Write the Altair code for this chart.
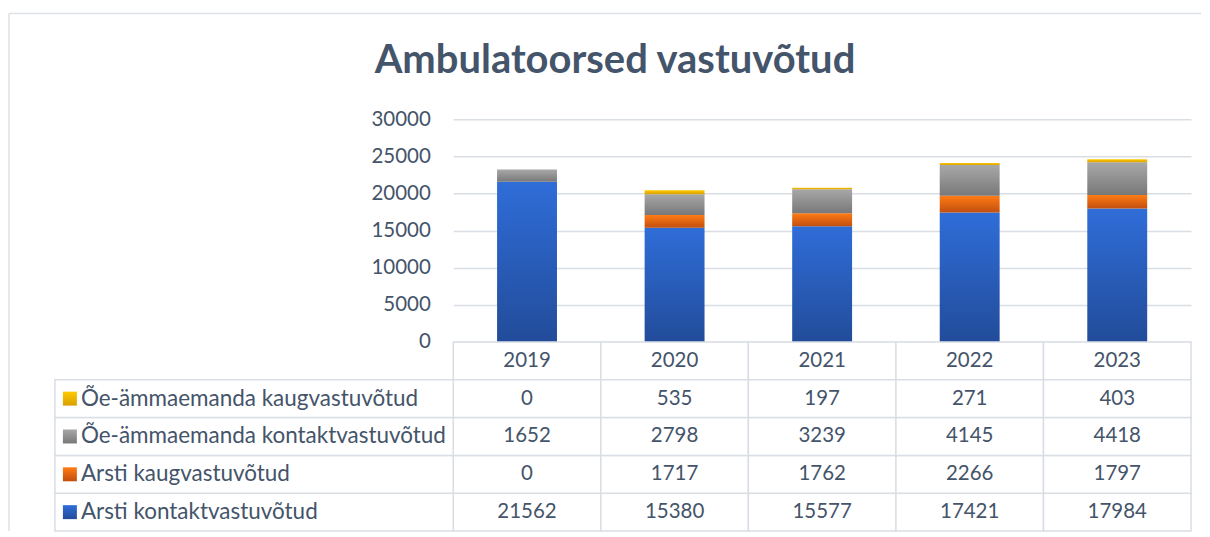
import altair as alt
import pandas as pd

# ---------------- data ----------------
years = ["2019", "2020", "2021", "2022", "2023"]
series = [
    "Arsti kontaktvastuvõtud",
    "Arsti kaugvastuvõtud",
    "Õe-ämmaemanda kontaktvastuvõtud",
    "Õe-ämmaemanda kaugvastuvõtud",
]
arsti_kontakt = [21562, 15380, 15577, 17421, 17984]
arsti_kaug = [0, 1717, 1762, 2266, 1797]
oe_kontakt = [1652, 2798, 3239, 4145, 4418]
oe_kaug = [0, 535, 197, 271, 403]
y_ticks = [0, 5000, 10000, 15000, 20000, 25000, 30000]
title_text = "Ambulatoorsed vastuvõtud"

values_by_series = [arsti_kontakt, arsti_kaug, oe_kontakt, oe_kaug]

# ---------------- styles ----------------
FONT = "Lato"
TXT = "#44546A"
LINE = "#D9DEE5"
FRAME = "#DDE2E8"
gradients = {
    series[0]: ("#2F6DD8", "#224C9A"),
    series[1]: ("#FF7C14", "#C24F10"),
    series[2]: ("#A8A8A8", "#787878"),
    series[3]: ("#FFC900", "#D9A000"),
}


def grad(s):
    top, bot = gradients[s]
    return alt.Gradient(
        gradient="linear",
        stops=[alt.GradientStop(color=top, offset=0), alt.GradientStop(color=bot, offset=1)],
        x1=0, x2=0, y1=0, y2=1,
    )


W = 739
H_PLOT = 223
ROW_H = 37.9
H_TABLE = ROW_H * 5

records = []
for i, (s, vals) in enumerate(zip(series, values_by_series)):
    for y, v in zip(years, vals):
        records.append({"year": y, "series": s, "order": i, "value": v})
df = pd.DataFrame(records)

HDR = "_hdr"
row_domain = [HDR] + series[::-1]
table_rows = [{"year": y, "row": HDR, "label": y} for y in years]
for s, vals in zip(series, values_by_series):
    for y, v in zip(years, vals):
        table_rows.append({"year": y, "row": s, "label": str(v)})
table_df = pd.DataFrame(table_rows)
legend_df = pd.DataFrame({"row": series})
dummy = pd.DataFrame({"k": [0]})

# ---------------- bar chart ----------------
xscale_bar = alt.Scale(domain=years, paddingInner=0.594, paddingOuter=0.297)
yscale = alt.Scale(domain=[0, 30000], nice=False)
yaxis = alt.Axis(
    values=y_ticks, format="d", domain=False, ticks=False, tickSize=0,
    labelPadding=23, labelFontSize=20.5, labelFont=FONT, labelColor=TXT,
    gridColor=LINE, gridWidth=1.5, title=None,
)

base = alt.Chart(df).transform_stack(
    stack="value", groupby=["year"], as_=["y0", "y1"],
    sort=[alt.SortField("order", order="ascending")],
)
bar_layers = []
for s in series:
    bar_layers.append(
        base.transform_filter(alt.datum.series == s)
        .mark_bar(color=grad(s))
        .encode(
            x=alt.X("year:N", scale=xscale_bar, axis=None),
            y=alt.Y("y0:Q", scale=yscale, axis=yaxis),
            y2="y1:Q",
        )
    )

# chart-area frame (top and left edges)
frame_top = alt.Chart(dummy).mark_rule(color=FRAME, strokeWidth=1.5).encode(
    x=alt.value(-445), x2=alt.value(749), y=alt.value(-106)
)
frame_left = alt.Chart(dummy).mark_rule(color=FRAME, strokeWidth=1.5).encode(
    x=alt.value(-445), y=alt.value(-106), y2=alt.value(H_PLOT + H_TABLE)
)

bars = alt.layer(*bar_layers, frame_top, frame_left).properties(width=W, height=H_PLOT)

# ---------------- data table ----------------
xscale_tab = alt.Scale(domain=years, paddingInner=0, paddingOuter=0)
yscale_tab = alt.Scale(domain=row_domain, paddingInner=0, paddingOuter=0)

cells = alt.Chart(table_df).mark_rect(fill="white", stroke=LINE, strokeWidth=1.5).encode(
    x=alt.X("year:N", scale=xscale_tab, axis=None),
    y=alt.Y("row:N", scale=yscale_tab, axis=None),
)
cell_text = alt.Chart(table_df).mark_text(font=FONT, fontSize=20.5, color=TXT).encode(
    x=alt.X("year:N", scale=xscale_tab, axis=None),
    y=alt.Y("row:N", scale=yscale_tab, axis=None),
    text="label:N",
)
legend_box = alt.Chart(legend_df).mark_rect(fill="white", stroke=LINE, strokeWidth=1.5).encode(
    x=alt.value(-399), x2=alt.value(0),
    y=alt.Y("row:N", scale=yscale_tab, axis=None),
)
legend_text = alt.Chart(legend_df).mark_text(font=FONT, fontSize=22.5, color=TXT, align="left").encode(
    x=alt.value(-373),
    y=alt.Y("row:N", scale=yscale_tab, axis=None),
    text="row:N",
)
swatches = []
for s in series:
    swatches.append(
        alt.Chart(legend_df).transform_filter(alt.datum.row == s)
        .mark_square(size=196, color=grad(s), opacity=1, filled=True)
        .encode(x=alt.value(-384), y=alt.Y("row:N", scale=yscale_tab, axis=None))
    )

table = alt.layer(cells, cell_text, legend_box, legend_text, *swatches).properties(
    width=W, height=H_TABLE
)

chart = (
    alt.vconcat(bars, table, spacing=0, bounds="flush")
    .resolve_scale(x="independent", y="independent")
    .properties(
        title=alt.Title(
            title_text, fontSize=40, font=FONT, fontWeight="bold", color=TXT,
            anchor="middle", frame="bounds", offset=-68, dx=10,
        ),
        padding={"left": 0, "top": 4, "right": 0, "bottom": 0},
    )
    .configure_view(strokeWidth=0)
)

chart.save("out.html", embed_options={"renderer": "svg", "actions": False})
